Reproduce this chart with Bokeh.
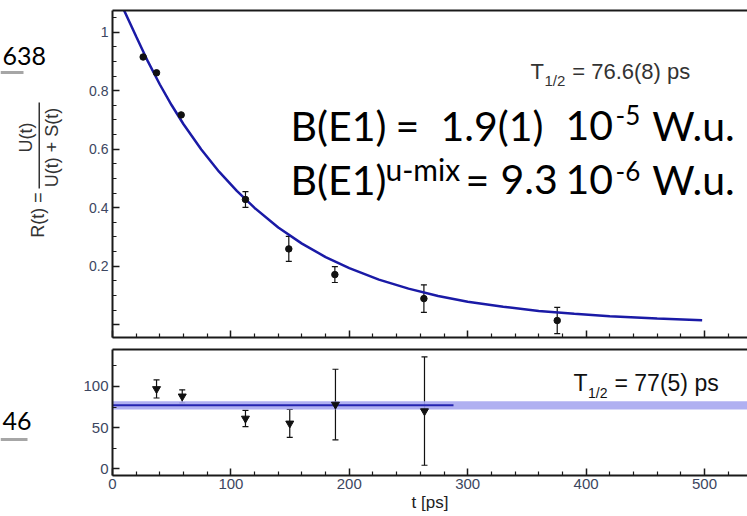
import numpy as np
from bokeh.plotting import figure
from bokeh.models import (LinearAxis, FixedTicker, Label, Whisker, TeeHead,
                          ColumnDataSource, Range1d, BoxAnnotation)
from bokeh.layouts import column, row
from bokeh.embed import file_html
from bokeh.resources import INLINE

# ---------------- data ----------------
t_ratio = [25.9, 37.2, 58.0, 112.3, 148.9, 187.8, 263.0, 375.6]
ratio = [0.915, 0.861, 0.717, 0.428, 0.259, 0.171, 0.089, 0.014]
ratio_err = [0.0, 0.0, 0.0, 0.027, 0.043, 0.027, 0.047, 0.045]

fit_t = [8, 20, 30, 40, 50, 60, 75, 90, 105, 120, 140, 160, 180, 200,
         225, 250, 275, 300, 330, 360, 390, 420, 460, 498]
fit_ratio = [1.09, 0.985, 0.899, 0.821, 0.750, 0.685, 0.599, 0.523, 0.457,
             0.399, 0.332, 0.277, 0.231, 0.193, 0.154, 0.123, 0.098, 0.078,
             0.061, 0.047, 0.037, 0.029, 0.021, 0.015]

t_half = [37.2, 58.9, 112.3, 149.7, 188.3, 263.5]
half = [97, 88, 61, 55, 78, 70]
half_err = [11, 8, 10, 17, 43, 66]

half_fit = 77
half_fit_err = 5
half_fit_line_t = [0, 288]
half_band_t = [0, 536.3]

x_ticks = [0, 100, 200, 300, 400, 500]
x_minor = [v for v in range(20, 540, 20) if v % 100]
ratio_ticks = [0.0, 0.2, 0.4, 0.6, 0.8, 1.0]
ratio_tick_labels = ["", "0.2", "0.4", "0.6", "0.8", "1"]
ratio_minor = [round(0.05 * k, 2) for k in range(1, 22) if k % 4]
half_ticks = [0, 50, 100]
half_minor = [25, 75, 125]

X_RANGE = (0, 536.3)
AXC = "#1a1a1a"
TICKC = "#3c4660"
CURVE = "#1a1aa6"
SIDE_W = 70
MAIN_W = 747 - SIDE_W


def make_axis(ticks, minor, size=None, overrides=None, standoff=4):
    ax = LinearAxis(ticker=FixedTicker(ticks=ticks, minor_ticks=minor))
    ax.axis_line_color = AXC
    ax.axis_line_width = 2
    ax.major_tick_in = 7
    ax.major_tick_out = 0
    ax.minor_tick_in = 4
    ax.minor_tick_out = 0
    ax.major_tick_line_color = AXC
    ax.minor_tick_line_color = AXC
    ax.major_tick_line_width = 1.5
    ax.minor_tick_line_width = 1.2
    if size is None:
        ax.major_label_text_font_size = "0px"
        ax.major_label_text_color = None
        ax.major_label_standoff = 0
    else:
        ax.major_label_text_font_size = size
        ax.major_label_text_font = "Liberation Sans"
        ax.major_label_text_color = TICKC
        ax.major_label_standoff = standoff
    if overrides:
        ax.major_label_overrides = overrides
    return ax


def lab(fig, x, y, text, size, font="Liberation Sans", color="#111111",
        align="left", baseline="alphabetic", angle=0.0, units="screen"):
    fig.add_layout(Label(x=x, y=y, x_units=units, y_units=units, text=text,
                         text_font=font, text_font_size=f"{size}px", text_color=color,
                         text_align=align, text_baseline=baseline, angle=angle))


def bar(fig, l, r, b, t, color):
    fig.add_layout(BoxAnnotation(left=l, right=r, bottom=b, top=t,
                                 fill_color=color, fill_alpha=1.0, line_color=None,
                                 level="overlay"))


def base_fig(height, yr, top, bottom):
    p = figure(width=MAIN_W, height=height,
               x_range=Range1d(*X_RANGE), y_range=Range1d(*yr),
               output_backend="svg", toolbar_location=None,
               x_axis_location=None, y_axis_location=None,
               min_border_left=42, min_border_right=0,
               min_border_top=top, min_border_bottom=bottom)
    p.outline_line_color = None
    p.xgrid.visible = False
    p.ygrid.visible = False
    p.background_fill_color = "white"
    p.border_fill_color = "white"
    return p


# ---------------- left strip (axis title and slide fragments) ----------------
side = figure(width=SIDE_W, height=516, x_range=Range1d(0, SIDE_W), y_range=Range1d(516, 0),
              output_backend="svg", toolbar_location=None,
              x_axis_location=None, y_axis_location=None,
              min_border_left=0, min_border_right=0, min_border_top=0, min_border_bottom=0)
side.outline_line_color = None
side.xgrid.visible = False
side.ygrid.visible = False

lab(side, 37, 214.5, "R(t) =", 18, color="#333333", align="center",
    baseline="middle", angle=np.pi / 2, units="data")
lab(side, 25, 137, "U(t)", 18, color="#333333", align="center",
    baseline="middle", angle=np.pi / 2, units="data")
lab(side, 51, 147, "U(t) + S(t)", 18, color="#333333", align="center",
    baseline="middle", angle=np.pi / 2, units="data")
bar(side, 38, 39.5, 188, 102, "#333333")

BIG = "Lato"
lab(side, 2, 55, "638", 25, font=BIG, color="#000000", align="left", units="data")
bar(side, 0, 23, 73.5, 70.5, "#a6a6a6")
lab(side, 2, 420, "46", 25, font=BIG, color="#000000", align="left", units="data")
bar(side, 0, 27, 440.5, 437.5, "#a6a6a6")

# ---------------- top panel ----------------
p1 = base_fig(343, (-0.044, 1.074), 10, 6)
p1.add_layout(make_axis(ratio_ticks, ratio_minor, "14px",
                        dict(zip(ratio_ticks, ratio_tick_labels))), "left")
p1.add_layout(make_axis(x_ticks, x_minor), "below")
p1.add_layout(make_axis([], []), "above")

p1.line(fit_t, fit_ratio, line_color=CURVE, line_width=2.5)
err_idx = [i for i, e in enumerate(ratio_err) if e > 0]
src1 = ColumnDataSource(dict(
    x=[t_ratio[i] for i in err_idx],
    lo=[ratio[i] - ratio_err[i] for i in err_idx],
    hi=[ratio[i] + ratio_err[i] for i in err_idx]))
p1.add_layout(Whisker(source=src1, base="x", lower="lo", upper="hi", dimension="height",
                      line_color="#111111", line_width=1.2,
                      upper_head=TeeHead(size=6, line_color="#111111", line_width=1.2),
                      lower_head=TeeHead(size=6, line_color="#111111", line_width=1.2)))
p1.scatter(t_ratio, ratio, marker="circle", size=6.5, color="#111111")

# texts (positions relative to the frame: x from its left, y up from its bottom)
lab(p1, 418, 266.2, "T", 22, color="#333333")
lab(p1, 432, 257, "1/2", 15, color="#333333")
lab(p1, 459.7, 266.2, "= 76.6(8) ps", 22, color="#333333")

K = "#000000"
lab(p1, 178, 212.5, "B(E1)", 41, font=BIG, color=K)
lab(p1, 283, 212.5, "=", 41, font=BIG, color=K)
lab(p1, 328, 212.5, "1.9(1)", 41, font=BIG, color=K)
lab(p1, 453, 212.5, "10", 41, font=BIG, color=K)
lab(p1, 503, 222.5, "-5", 26, font=BIG, color=K)
lab(p1, 539.7, 212.5, "W.u.", 41, font=BIG, color=K)

lab(p1, 178, 158, "B(E1)", 41, font=BIG, color=K)
lab(p1, 273, 169, "u-mix", 30, font=BIG, color=K)
lab(p1, 353, 158, "=", 41, font=BIG, color=K)
lab(p1, 388, 158, "9.3", 41, font=BIG, color=K)
lab(p1, 453, 158, "10", 41, font=BIG, color=K)
lab(p1, 503, 166.5, "-6", 26, font=BIG, color=K)
lab(p1, 539.7, 158, "W.u.", 41, font=BIG, color=K)

# ---------------- bottom panel ----------------
p2 = base_fig(173, (-8.5, 145.1), 6, 41)
p2.add_layout(make_axis(half_ticks, half_minor, "15px"), "left")
xa = make_axis(x_ticks, x_minor, "15px", standoff=3)
xa.axis_label = "t [ps]"
xa.axis_label_text_font = "Liberation Sans"
xa.axis_label_text_font_size = "17px"
xa.axis_label_text_font_style = "normal"
xa.axis_label_text_color = "#222222"
xa.axis_label_standoff = 1
p2.add_layout(xa, "below")
p2.add_layout(make_axis([], []), "above")

p2.varea(x=half_band_t, y1=[half_fit - half_fit_err] * 2, y2=[half_fit + half_fit_err] * 2,
         fill_color="#a7a7f0", fill_alpha=0.9)
p2.line(half_fit_line_t, [half_fit] * 2, line_color="#2424b0", line_width=2)

src2 = ColumnDataSource(dict(x=t_half,
                             lo=[v - e for v, e in zip(half, half_err)],
                             hi=[v + e for v, e in zip(half, half_err)]))
p2.add_layout(Whisker(source=src2, base="x", lower="lo", upper="hi", dimension="height",
                      line_color="#111111", line_width=1.2,
                      upper_head=TeeHead(size=6, line_color="#111111", line_width=1.2),
                      lower_head=TeeHead(size=6, line_color="#111111", line_width=1.2)))
p2.scatter(t_half, half, marker="inverted_triangle", size=8, color="#111111")

lab(p2, 461, 93, "T", 23)
lab(p2, 475.5, 83, "1/2", 14)
lab(p2, 502, 93, "= 77(5) ps", 23)

layout = row(side, column(p1, p2))
open("out.html", "w").write(file_html(layout, INLINE))
